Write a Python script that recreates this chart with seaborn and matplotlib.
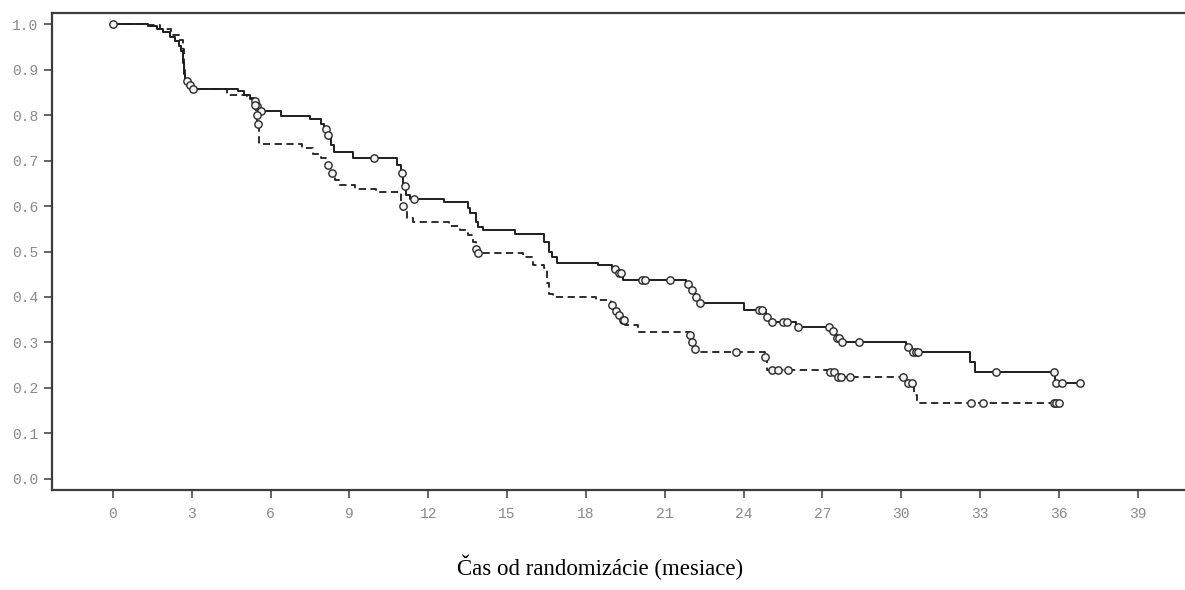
import matplotlib
matplotlib.use('Agg')
import matplotlib.pyplot as plt
import numpy as np
import pandas as pd
import seaborn as sns

# Kaplan-Meier steps (time in months, survival after the step)
solid_t = [0, 1.33, 1.67, 1.9, 2.17, 2.36, 2.5, 2.6, 2.65, 2.7, 2.75, 2.85, 3.0,
           4.76, 5.0, 5.2, 5.35, 5.5, 5.6, 6.4, 7.5, 7.9, 8.05, 8.15, 8.3, 8.4,
           9.14, 10.8, 10.95, 11.05, 11.15, 11.3, 12.6, 13.5, 13.6, 13.8, 13.9, 14.1,
           15.3, 16.4, 16.6, 16.7, 16.9, 18.45, 19.0, 19.2, 19.4, 21.8, 22.0, 22.15,
           22.3, 24.0, 24.85, 25.0, 26.0, 27.3, 27.5, 27.7, 30.2, 30.4, 32.6, 32.8,
           35.85, 36.8]
solid_s = [1.0, 0.995, 0.99, 0.982, 0.972, 0.963, 0.952, 0.94, 0.915, 0.89, 0.875, 0.865, 0.857,
           0.852, 0.845, 0.838, 0.83, 0.82, 0.808, 0.798, 0.791, 0.78, 0.77, 0.755, 0.735, 0.719,
           0.705, 0.69, 0.672, 0.645, 0.625, 0.615, 0.609, 0.595, 0.584, 0.565, 0.554, 0.547,
           0.538, 0.52, 0.50, 0.488, 0.475, 0.47, 0.462, 0.452, 0.437, 0.428, 0.415, 0.40,
           0.386, 0.371, 0.357, 0.346, 0.334, 0.325, 0.31, 0.301, 0.29, 0.279, 0.257, 0.235,
           0.211, 0.211]
solid_cens = [0, 2.8, 2.95, 3.05, 5.4, 5.5, 5.62, 8.1, 8.2, 9.93, 11.0, 11.1, 11.45,
              19.1, 19.25, 19.35, 20.15, 20.25, 21.2, 21.9, 22.05, 22.2, 22.35, 24.6, 24.7,
              24.9, 25.1, 25.5, 25.65, 26.07, 27.25, 27.4, 27.55, 27.65, 27.75, 28.4,
              30.26, 30.45, 30.55, 30.65, 33.6, 35.8, 35.9, 36.1, 36.8]

dashed_t = [0, 1.33, 1.8, 2.2, 2.5, 2.65, 2.7, 2.75, 2.85, 3.0, 4.33, 5.1, 5.35, 5.45,
            5.5, 5.55, 7.18, 7.6, 7.9, 8.1, 8.3, 8.45, 8.6, 9.2, 10.0, 10.95, 11.05, 11.2,
            11.4, 12.8, 13.2, 13.5, 13.7, 13.8, 13.85, 15.6, 16.0, 16.4, 16.5, 16.6, 16.75,
            18.4, 18.95, 19.1, 19.2, 19.35, 19.5, 20.0, 21.95, 22.0, 22.1, 22.2, 24.8,
            24.9, 27.3, 27.5, 30.2, 30.5, 30.6, 36.0]
dashed_s = [1.0, 0.997, 0.99, 0.975, 0.965, 0.945, 0.91, 0.88, 0.865, 0.857, 0.845, 0.835, 0.822, 0.80,
            0.78, 0.736, 0.727, 0.715, 0.705, 0.69, 0.672, 0.657, 0.646, 0.637, 0.631, 0.60, 0.591, 0.573,
            0.565, 0.556, 0.547, 0.536, 0.52, 0.505, 0.497, 0.488, 0.47, 0.463, 0.43, 0.407, 0.40,
            0.393, 0.382, 0.37, 0.36, 0.35, 0.338, 0.323, 0.316, 0.30, 0.286, 0.279, 0.268,
            0.24, 0.236, 0.224, 0.212, 0.185, 0.167, 0.167]
dashed_cens = [5.4, 5.47, 5.52, 8.2, 8.35, 11.02, 13.82, 13.9, 19.0, 19.15, 19.25, 19.4, 19.45,
               21.97, 22.05, 22.15, 23.7, 24.82, 25.07, 25.3, 25.7, 27.3, 27.45, 27.6, 27.7,
               28.05, 30.06, 30.25, 30.4, 32.65, 33.1, 35.8, 35.9, 36.0]

xticks = list(range(0, 40, 3))
yticks = [0.0, 0.1, 0.2, 0.3, 0.4, 0.5, 0.6, 0.7, 0.8, 0.9, 1.0]
xlabel = 'Čas od randomizácie (mesiace)'


def censor_points(t, s, cens):
    t = np.asarray(t)
    s = np.asarray(s)
    idx = np.searchsorted(t, cens, side='right') - 1
    return pd.DataFrame({'t': cens, 's': s[idx]})


sns.set_style('white')
fig = plt.figure(figsize=(11.85, 5.9), dpi=100)
ax = fig.add_axes([52 / 1185, 100 / 590, 1 - 52 / 1185, 477 / 590])

ink = '#1e1e1e'
curve1 = pd.DataFrame({'t': solid_t, 's': solid_s})
curve2 = pd.DataFrame({'t': dashed_t, 's': dashed_s})
sns.lineplot(data=curve1, x='t', y='s', drawstyle='steps-post', estimator=None,
             color=ink, lw=1.4, ax=ax)
sns.lineplot(data=curve2, x='t', y='s', drawstyle='steps-post', estimator=None,
             color=ink, lw=1.3, linestyle=(0, (4, 2.5)), ax=ax)

for t, s, c in [(solid_t, solid_s, solid_cens), (dashed_t, dashed_s, dashed_cens)]:
    pts = censor_points(t, s, c)
    sns.scatterplot(data=pts, x='t', y='s', marker='o', s=28, facecolor='#f4f4f4',
                    edgecolor='#2a2a2a', linewidth=1.0, ax=ax, zorder=3)

ax.set_xlim(-2.32, 40.8)
ax.set_ylim(-0.0242, 1.0242)
ax.set_xticks(xticks)
ax.set_yticks(yticks)
ax.set_xticklabels([str(v) for v in xticks])
ax.set_yticklabels([f'{v:.1f}' for v in yticks])
ax.set_xlabel('')
ax.set_ylabel('')

for side in ['left', 'top', 'bottom']:
    ax.spines[side].set_color('#3c3c3c')
    ax.spines[side].set_linewidth(1.6)
ax.spines['right'].set_visible(False)

ax.tick_params(axis='both', direction='out', length=6, width=1.1, color='#3c3c3c',
               labelcolor='#8a8a8a', labelsize=10.5, bottom=True, left=True)
ax.tick_params(axis='x', pad=6)
ax.tick_params(axis='y', pad=4)
for lab in ax.get_xticklabels() + ax.get_yticklabels():
    lab.set_family('Liberation Mono')

fig.text(600 / 1185, 15 / 590, xlabel, ha='center', va='baseline',
         fontsize=16.5, family='Liberation Serif', color='black')

fig.savefig('out.png', dpi=100)
